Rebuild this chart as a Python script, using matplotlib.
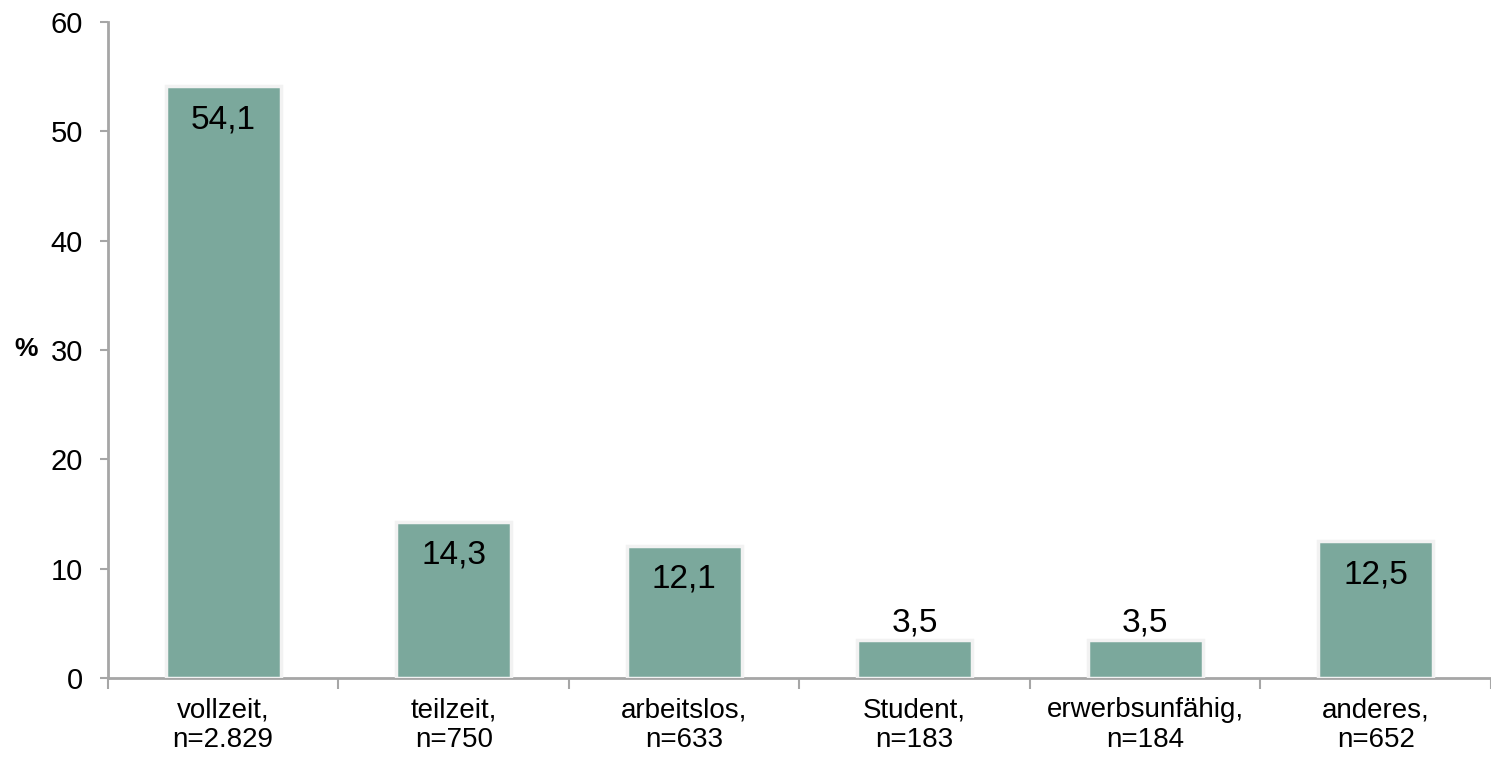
import numpy as np
import matplotlib.pyplot as plt

plt.rcParams['font.family'] = ['Liberation Sans', 'DejaVu Sans']

kategorien = ['vollzeit,\nn=2.829', 'teilzeit,\nn=750', 'arbeitslos,\nn=633',
              'Student,\nn=183', 'erwerbsunfähig,\nn=184', 'anderes,\nn=652']
anteile = [54.1, 14.3, 12.1, 3.5, 3.5, 12.5]

farbe = '#7BA89C'
grau = '#A6A6A6'

fig = plt.figure(figsize=(14.91, 7.58), dpi=100)
ax = fig.add_axes([0.0724, 0.1055, 0.9276, 0.8655])

x = np.arange(len(kategorien))
# weisser Rand um die Balken wie im Excel-Stil
balken = ax.bar(x, anteile, width=0.5, color=farbe, edgecolor='#F2F2F2',
                linewidth=2.5, zorder=3)

for xi, wert in zip(x, anteile):
    text = f'{wert:.1f}'.replace('.', ',')
    if wert > 8:
        ax.annotate(text, (xi, wert), xytext=(0, -13), textcoords='offset points',
                    ha='center', va='top', fontsize=24, color='black')
    else:
        ax.annotate(text, (xi, wert), xytext=(0, 1), textcoords='offset points',
                    ha='center', va='bottom', fontsize=24, color='black')

ax.set_xlim(-0.5, len(kategorien) - 0.5)
ax.set_ylim(0, 60)
ax.set_yticks(np.arange(0, 61, 10))
ax.tick_params(axis='y', labelsize=21, length=6, width=1.5, color=grau, pad=12)

# Striche zwischen den Kategorien, Beschriftung mittig
ax.set_xticks(np.arange(-0.5, len(kategorien), 1.0))
ax.set_xticklabels([])
ax.set_xticks(x, minor=True)
ax.set_xticklabels(kategorien, minor=True, fontsize=20, linespacing=1.2)
ax.tick_params(axis='x', which='major', length=8, width=1.5, color=grau)
ax.tick_params(axis='x', which='minor', length=0, pad=14)

for seite in ['top', 'right']:
    ax.spines[seite].set_visible(False)
for seite in ['left', 'bottom']:
    ax.spines[seite].set_color(grau)
    ax.spines[seite].set_linewidth(2)

fig.text(0.0175, 0.54, '%', fontsize=19, fontweight='bold', ha='center', va='center')

fig.savefig('out.png', dpi=100)
